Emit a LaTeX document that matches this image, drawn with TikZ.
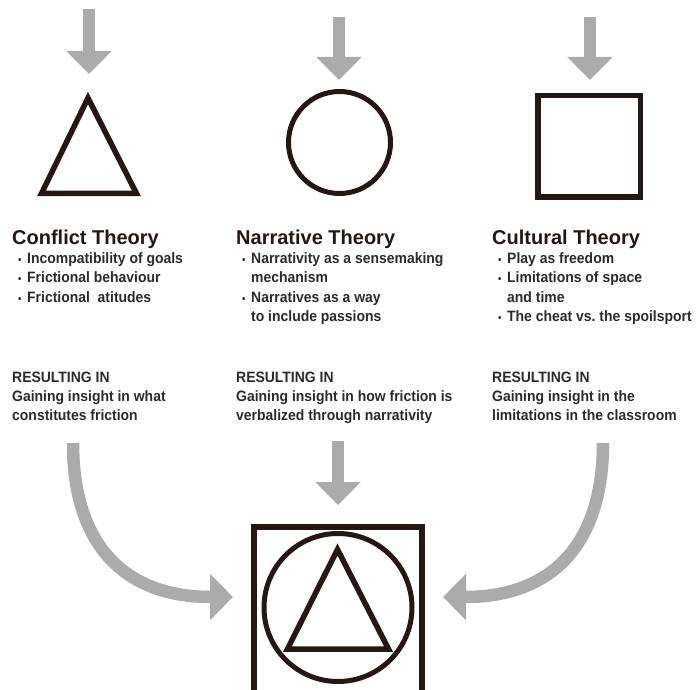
\documentclass[tikz,border=0pt]{standalone}
\usepackage{fontspec}
\setmainfont{Liberation Sans}
\newfontfamily\bodyfont{Liberation Sans}[FakeStretch=0.93]
\usetikzlibrary{arrows.meta}
\definecolor{ink}{HTML}{231815}
\definecolor{txt}{HTML}{2E2A2A}
\definecolor{arr}{HTML}{ABABAB}
\newcommand{\mybul}{\makebox[14pt][l]{\hspace{5pt}{\fontsize{10.5}{10}\selectfont •}}}
\newcommand{\myind}{\hspace*{14pt}}
\tikzset{
  shapeline/.style={draw=ink, line width=5.5pt, line join=miter},
  grayarrow/.style={draw=arr, line width=11.5pt, -{Triangle[length=23pt 0 0, width=44pt 0 0]}},
  curvearrow/.style={draw=arr, line width=12.5pt, -{Triangle[length=23pt 0 0, width=45pt 0 0]}},
  heading/.style={anchor=base west, inner sep=0pt, text=ink, font=\fontsize{20}{24}\selectfont\bfseries},
  body/.style={anchor=base west, inner sep=0pt, text=txt, font=\bodyfont\fontsize{15}{19.3}\selectfont\bfseries},
}
\begin{document}
\begin{tikzpicture}[x=1pt, y=-1pt]
\useasboundingbox (0,0) rectangle (697,690);
\fill[white] (0,0) rectangle (697,690);

% top arrows
\coordinate (a1s) at (89,9);   \coordinate (a1e) at (89,74);
\coordinate (a2s) at (339,17); \coordinate (a2e) at (339,80);
\coordinate (a3s) at (590,17); \coordinate (a3e) at (590,80);
\draw[grayarrow] (a1s) -- (a1e);
\draw[grayarrow] (a2s) -- (a2e);
\draw[grayarrow] (a3s) -- (a3e);

% top shapes
\draw[shapeline] (88,98) -- (136.5,193.5) -- (41.5,193.5) -- cycle;
\node[circle, draw=ink, line width=5pt, minimum size=102pt, inner sep=0pt] (circ) at (339.5,142.5) {};
\node[rectangle, draw=ink, line width=5.5pt, minimum width=102.5pt, minimum height=101.5pt, inner sep=0pt] (sq) at (589,146.5) {};

% headings
\node[heading] (h1) at (12,245) {Conflict Theory};
\node[heading] (h2) at (236,245) {Narrative Theory};
\node[heading] (h3) at (492,245) {Cultural Theory};

% bullets
\node[body] (b1) at (13,263.5) {\begin{tabular}[t]{@{}l@{}}
\mybul Incompatibility of goals\\
\mybul Frictional behaviour\\
\mybul Frictional\ \ atitudes
\end{tabular}};
\node[body] (b2) at (237,263.5) {\begin{tabular}[t]{@{}l@{}}
\mybul Narrativity as a sensemaking\\
\myind mechanism\\
\mybul Narratives as a way\\
\myind to include passions
\end{tabular}};
\node[body] (b3) at (493,263.5) {\begin{tabular}[t]{@{}l@{}}
\mybul Play as freedom\\
\mybul Limitations of space\\
\myind and time\\
\mybul The cheat vs.\ the spoilsport
\end{tabular}};

% resulting
\node[body] (r1) at (12,382) {\begin{tabular}[t]{@{}l@{}}
RESULTING IN\\
Gaining insight in what\\
constitutes friction
\end{tabular}};
\node[body] (r2) at (236,382) {\begin{tabular}[t]{@{}l@{}}
RESULTING IN\\
Gaining insight in how friction is\\
verbalized through narrativity
\end{tabular}};
\node[body] (r3) at (492,382) {\begin{tabular}[t]{@{}l@{}}
RESULTING IN\\
Gaining insight in the\\
limitations in the classroom
\end{tabular}};

% bottom arrows
\coordinate (ms) at (338,441);  \coordinate (me) at (338,505);
\draw[grayarrow] (ms) -- (me);
\coordinate (ls) at (73,443);  \coordinate (le) at (233,597);
\coordinate (rs) at (603,443); \coordinate (re) at (443,597);
\draw[curvearrow] (ls) .. controls (73,540) and (120,597) .. (le);
\draw[curvearrow] (rs) .. controls (603,540) and (556,597) .. (re);

% combined symbol
\draw[draw=ink, line width=6pt, line join=miter] (253.5,692) -- (253.5,526.5) -- (421.5,526.5) -- (421.5,692);
\node[circle, draw=ink, line width=5pt, minimum size=148pt, inner sep=0pt] (bigcirc) at (338,607.5) {};
\draw[shapeline] (337.5,549.5) -- (388.5,649) -- (287.5,649) -- cycle;
\end{tikzpicture}
\end{document}
